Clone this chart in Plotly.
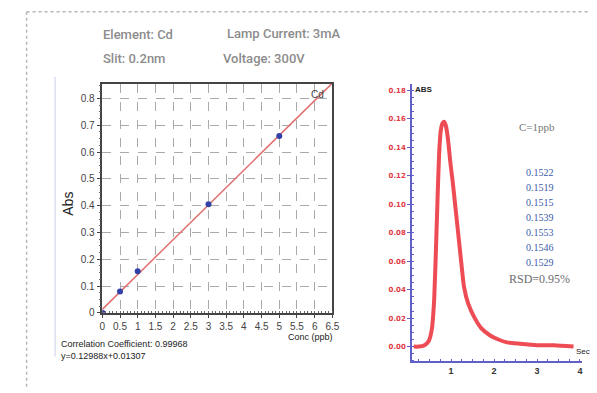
import numpy as np
import plotly.graph_objects as go

W, H = 597, 393

# ---------------- data ----------------
conc_ppb = [0, 0.5, 1, 3, 5]
abs_vals = [0.0, 0.08, 0.155, 0.405, 0.66]
fit_slope = 0.12988
fit_intercept = 0.01307
fit_x_range = [0, 6.5]

peak_time = [0.13, 0.25, 0.38, 0.48, 0.55, 0.60, 0.64, 0.68, 0.72, 0.76, 0.80, 0.84,
             0.88, 0.93, 0.98, 1.04, 1.10, 1.17, 1.24, 1.30, 1.40, 1.55, 1.70, 1.90,
             2.10, 2.30, 2.60, 3.00, 3.40, 3.85]
peak_abs = [0.000, 0.000, 0.001, 0.004, 0.012, 0.030, 0.062, 0.100, 0.135, 0.152, 0.157, 0.158,
            0.155, 0.145, 0.130, 0.115, 0.098, 0.078, 0.058, 0.042, 0.030, 0.020, 0.013, 0.008,
            0.005, 0.003, 0.002, 0.001, 0.001, 0.000]

replicates = ["0.1522", "0.1519", "0.1515", "0.1539", "0.1553", "0.1546", "0.1529"]
left_xticks = [0, 0.5, 1, 1.5, 2, 2.5, 3, 3.5, 4, 4.5, 5, 5.5, 6, 6.5]
left_yticks = [0, 0.1, 0.2, 0.3, 0.4, 0.5, 0.6, 0.7, 0.8]
right_yticks = [0.0, 0.02, 0.04, 0.06, 0.08, 0.10, 0.12, 0.14, 0.16, 0.18]
right_xticks = [1, 2, 3, 4]


def px(x):
    return x / W


def py(y):
    return 1 - y / H


fig = go.Figure()

fit_x = np.array(fit_x_range, dtype=float)
fig.add_trace(go.Scatter(x=fit_x, y=fit_slope * fit_x + fit_intercept, mode="lines",
                         line=dict(color="#e07070", width=1.5), xaxis="x", yaxis="y",
                         showlegend=False, hoverinfo="skip"))
fig.add_trace(go.Scatter(x=conc_ppb, y=abs_vals, mode="markers",
                         marker=dict(color="#3340a8", size=6), xaxis="x", yaxis="y",
                         showlegend=False))

fig.add_trace(go.Scatter(x=peak_time, y=peak_abs, mode="lines",
                         line=dict(color="rgba(235,45,55,0.85)", width=4, shape="spline", smoothing=0.6),
                         xaxis="x2", yaxis="y2", showlegend=False))

fig.update_layout(
    width=W, height=H, margin=dict(l=0, r=0, t=0, b=0),
    paper_bgcolor="white", plot_bgcolor="white",
    font=dict(family="Roboto, Arial, sans-serif"),
    xaxis=dict(domain=[px(101), px(335)], range=[0, 6.5], anchor="y",
               tickvals=left_xticks, ticktext=[f"{v:g}" for v in left_xticks],
               tickfont=dict(size=10, color="#444", family="Liberation Sans Narrow, Arial"),
               showgrid=True, gridcolor="#aaa", griddash="dash", gridwidth=1,
               showline=True, linecolor="#444", linewidth=1.5, mirror=True,
               ticks="outside", ticklen=3, tickcolor="#444",
               minor=dict(dtick=0.1, ticks="inside", ticklen=2, tickcolor="#666"),
               zeroline=False, fixedrange=True),
    yaxis=dict(domain=[py(317.7), py(85)], range=[0, 0.855], anchor="x",
               tickvals=left_yticks, ticktext=[f"{v:g}" for v in left_yticks],
               tickfont=dict(size=10, color="#444", family="Liberation Sans Narrow, Arial"),
               showgrid=True, gridcolor="#aaa", griddash="dash", gridwidth=1,
               showline=True, linecolor="#444", linewidth=1.5, mirror=True,
               ticks="outside", ticklen=4, tickcolor="#444",
               minor=dict(dtick=0.025, ticks="outside", ticklen=2, tickcolor="#666"),
               zeroline=False, fixedrange=True),
    xaxis2=dict(domain=[px(416), px(589)], range=[0.09, 4.05], anchor="y2",
                tickvals=right_xticks, ticktext=[str(v) for v in right_xticks],
                tickfont=dict(size=9, color="#333", family="Liberation Sans, Arial", weight=700),
                showgrid=False, showline=True, linecolor="#6060c8", linewidth=1.5,
                ticks="inside", ticklen=3, tickcolor="#6060c8",
                minor=dict(dtick=0.25, ticks="inside", ticklen=3, tickcolor="#6060c8"),
                zeroline=False, fixedrange=True),
    yaxis2=dict(domain=[py(367), py(85)], range=[-0.0104, 0.1848], anchor="x2",
                tickvals=right_yticks, ticktext=[f"{v:.2f}" for v in right_yticks],
                tickfont=dict(size=7, color="#e03a46", family="DejaVu Sans, Arial", weight=700),
                showgrid=False, showline=True, linecolor="#6060c8", linewidth=1.5,
                ticks="outside", ticklen=3, tickcolor="#6060c8",
                minor=dict(dtick=0.005, ticks="inside", ticklen=2, tickcolor="#6060c8"),
                zeroline=False, fixedrange=True),
)

ann = []


def add_text(text, x, y, size, color, family="Roboto, Arial", xanchor="left", yanchor="middle", angle=0, weight=None):
    f = dict(size=size, color=color, family=family)
    if weight:
        f["weight"] = weight
    ann.append(dict(text=text, x=px(x), y=py(y), xref="paper", yref="paper",
                    showarrow=False, xanchor=xanchor, yanchor=yanchor, font=f, textangle=angle))


gray = "#8c8c8c"
add_text("Element: Cd", 100, 35, 13, gray, weight=500)
add_text("Lamp Current: 3mA", 226, 34, 13, gray, weight=500)
add_text("Slit: 0.2nm", 100, 59, 13, gray, weight=500)
add_text("Voltage: 300V", 222, 59, 13, gray, weight=500)

add_text("Abs", 66, 207, 14, "#222", family="Arial, Liberation Sans", xanchor="center", angle=-90)
add_text("Cd", 320, 96, 10, "#444", family="Arial, Liberation Sans", xanchor="center")
add_text("Conc (ppb)", 338, 342, 9, "#222", family="Liberation Sans Narrow, Arial", xanchor="right")
add_text("Correlation Coefficient: 0.99968", 57, 349, 9, "#222", family="Liberation Sans Narrow, Arial")
add_text(f"y={fit_slope}x+{fit_intercept}", 57, 362, 9, "#222", family="Liberation Sans Narrow, Arial")

add_text("ABS", 417, 91, 8, "#222", family="Arial, Liberation Sans", weight=700)
add_text("Sec", 581, 357, 8, "#222", family="Arial, Liberation Sans", xanchor="left")
add_text("C=1ppb", 543, 129, 11, "#777", family="Liberation Serif, serif", xanchor="center")
for i, v in enumerate(replicates):
    add_text(v, 546, 175 + 15.3 * i, 10, "#3a5ca8", family="Liberation Serif, serif", xanchor="center")
add_text("RSD=0.95%", 546, 283, 12, "#6d6d6d", family="Liberation Serif, serif", xanchor="center")

fig.update_layout(annotations=ann)

shapes = [
    dict(type="line", xref="paper", yref="paper", x0=px(24), x1=1, y0=py(12), y1=py(12),
         line=dict(color="#b5b5b5", width=1.5, dash="dot")),
    dict(type="line", xref="paper", yref="paper", x0=px(24), x1=px(24), y0=py(12), y1=0,
         line=dict(color="#b5b5b5", width=1.5, dash="dot")),
    dict(type="line", xref="paper", yref="paper", x0=px(53), x1=px(53), y0=py(78), y1=py(362),
         line=dict(color="#dde0ee", width=1.5)),
]
fig.update_layout(shapes=shapes)

fig.write_html("out.html", config={"displayModeBar": False},
               post_script="document.body.style.margin='0';document.body.style.overflow='hidden';")
